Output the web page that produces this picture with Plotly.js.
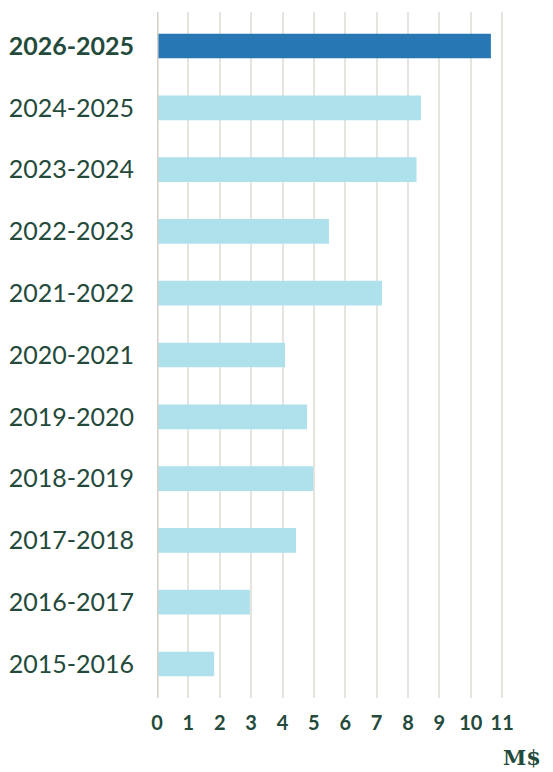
<!DOCTYPE html>
<html><head><meta charset="utf-8">
<script src="https://cdn.plot.ly/plotly-3.0.1.min.js"></script>
<style>html,body{margin:0;padding:0;background:#fff}#c{width:553px;height:772px}</style>
</head><body><div id="c"></div>
<script>
const categories = ["2026-2025","2024-2025","2023-2024","2022-2023","2021-2022","2020-2021","2019-2020","2018-2019","2017-2018","2016-2017","2015-2016"];
const values = [10.64, 8.41, 8.27, 5.48, 7.17, 4.08, 4.78, 4.98, 4.43, 2.96, 1.82];
const xTicks = [0,1,2,3,4,5,6,7,8,9,10,11];
const unitLabel = "M$";

const textColor = "#244a3c";
const colors = categories.map((c,i)=> i===0 ? "#2677b4" : "#afe1ed");
const tickText = categories.map((c,i)=> i===0 ? "<b>"+c+"</b>" : c);

const trace = {
  type: "bar", orientation: "h",
  y: categories, x: values,
  marker: {color: colors, line: {width: 0}},
  width: 0.4,
  hoverinfo: "none"
};
const layout = {
  width: 553, height: 772,
  margin: {l: 157, r: 32, t: 12, b: 74},
  paper_bgcolor: "#fff", plot_bgcolor: "#fff",
  showlegend: false,
  font: {family: "Lato, sans-serif", color: textColor},
  xaxis: {
    range: [0, 11.6], tickvals: xTicks, ticktext: xTicks.map(String),
    showgrid: true, gridcolor: "#e6e4df", gridwidth: 2,
    zeroline: false, showline: false, ticks: "",
    tickfont: {family: "Lato, sans-serif", size: 20, color: textColor, weight: "bold"},
    ticklabelstandoff: 11, fixedrange: true
  },
  yaxis: {
    type: "category", categoryorder: "array", categoryarray: categories,
    autorange: false, range: [10.55, -0.55],
    tickvals: categories, ticktext: tickText,
    tickfont: {family: "Lato, sans-serif", size: 25, color: textColor},
    showgrid: false, zeroline: false, showline: false, ticks: "",
    ticklabelstandoff: 22, fixedrange: true
  },
  shapes: [{type: "line", xref: "x", yref: "paper", x0: 0, x1: 0, y0: 0, y1: 1,
    line: {color: "#d5d0c8", width: 3}}],
  annotations: [{text: "<b>"+unitLabel+"</b>", xref: "paper", yref: "paper",
    x: 1.0, y: -0.087, xanchor: "right", yanchor: "middle", showarrow: false,
    xshift: 22,
    font: {family: "DejaVu Serif, serif", size: 21, color: textColor}}]
};
Plotly.newPlot("c", [trace], layout, {displayModeBar: false, staticPlot: true});
</script></body></html>
